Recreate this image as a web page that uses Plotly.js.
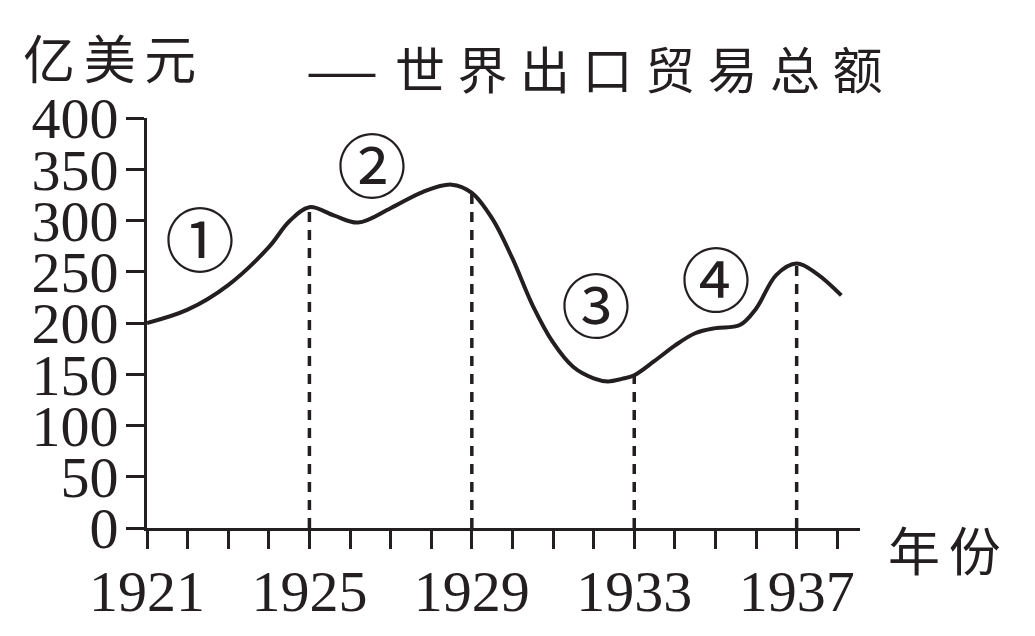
<!DOCTYPE html>
<html>
<head>
<meta charset="utf-8">
<script src="https://cdn.plot.ly/plotly-3.0.1.min.js"></script>
<style>html,body{margin:0;padding:0;background:#fff;}#chart{width:1035px;height:636px;}</style>
</head>
<body>
<div id="chart"></div>
<script>
// Curve (year, 亿美元)
const years = [1921, 1922, 1923, 1924, 1924.5, 1925, 1925.6, 1926.2, 1927, 1927.8, 1928.5, 1929, 1929.5, 1930, 1930.5, 1931, 1931.5, 1932, 1932.35, 1932.7, 1933, 1933.5, 1934, 1934.5, 1935, 1935.6, 1936, 1936.5, 1937, 1937.5, 1938.1];
const values = [200, 213, 237, 274, 299, 313, 305, 298, 312, 328, 335, 327, 302, 263, 217, 181, 157, 146, 143, 145.5, 149, 163, 178, 190, 195, 198, 214, 247, 258, 248, 227];

// Dashed drop lines
const markYears = [1925, 1929, 1933, 1937];
const markValues = [313, 327, 149, 258];

// Stage labels
const stageLabels = ['①', '②', '③', '④'];
const stageX = [1922.3, 1926.55, 1932.05, 1935.02];
const stageY = [278, 350, 214, 239];

// Axes
const xTickVals = [1921,1922,1923,1924,1925,1926,1927,1928,1929,1930,1931,1932,1933,1934,1935,1936,1937,1938];
const xTickText = ['1921','','','','1925','','','','1929','','','','1933','','','','1937',''];
const yTickVals = [0, 50, 100, 150, 200, 250, 300, 350, 400];

const seriesName = '世界出口贸易总额';
const yUnit = '亿美元';
const xUnit = '年份';

const ink = '#231f20';
const traces = [];
markYears.forEach((yr, i) => {
  traces.push({x: [yr, yr], y: [0, markValues[i]], mode: 'lines', showlegend: false, hoverinfo: 'skip',
    line: {color: ink, width: 3.5, dash: '10px,8px'}});
});
traces.push({x: years, y: values, mode: 'lines', name: seriesName, showlegend: false,
  line: {color: ink, width: 4, shape: 'spline', smoothing: 1}});

const annotations = stageLabels.map((t, i) => ({
  x: stageX[i], y: stageY[i], xref: 'x', yref: 'y', text: t, showarrow: false,
  xanchor: 'center', yanchor: 'middle',
  font: {family: 'DejaVu Serif, Noto Sans CJK SC', size: 70, color: ink}
}));
annotations.push({x: -0.052, y: 1.151, xref: 'paper', yref: 'paper', xanchor: 'center', yanchor: 'middle',
  text: yUnit.split('').join('\u2006'), showarrow: false,
  font: {family: 'Noto Sans CJK SC', size: 52, color: ink}});
annotations.push({x: 0.2735, y: 1.12, xref: 'paper', yref: 'paper', xanchor: 'center', yanchor: 'middle',
  text: '—', showarrow: false,
  font: {family: 'Liberation Serif', size: 66, color: ink}});
annotations.push({x: 0.345, y: 1.124, xref: 'paper', yref: 'paper', xanchor: 'left', yanchor: 'middle',
  text: seriesName.split('').join('\u2005'), showarrow: false,
  font: {family: 'Noto Sans CJK SC', size: 50, color: ink}});
annotations.push({x: 1.118, y: -0.05, xref: 'paper', yref: 'paper', xanchor: 'center', yanchor: 'middle',
  text: xUnit.split('').join('\u2006'), showarrow: false,
  font: {family: 'Noto Sans CJK SC', size: 52, color: ink}});

const layout = {
  width: 1035, height: 636,
  margin: {l: 147, r: 175, t: 118, b: 108},
  paper_bgcolor: '#fff', plot_bgcolor: '#fff',
  showlegend: false,
  xaxis: {range: [1921, 1938.56], tickmode: 'array', tickvals: xTickVals, ticktext: xTickText,
    showline: true, linewidth: 3, linecolor: ink, ticks: 'outside', ticklen: 18, tickwidth: 3, tickcolor: ink,
    showgrid: false, zeroline: false, tickangle: 0, ticklabelstandoff: -8,
    tickfont: {family: 'Liberation Serif', size: 58, color: ink}},
  yaxis: {range: [0, 400], tickmode: 'array', tickvals: yTickVals,
    showline: true, linewidth: 3, linecolor: ink, ticks: 'outside', ticklen: 18, tickwidth: 3, tickcolor: ink,
    showgrid: false, zeroline: false, ticklabelstandoff: -4,
    tickfont: {family: 'Liberation Serif', size: 58, color: ink}},
  annotations: annotations
};
Plotly.newPlot('chart', traces, layout, {displayModeBar: false, staticPlot: true});
</script>
</body>
</html>
